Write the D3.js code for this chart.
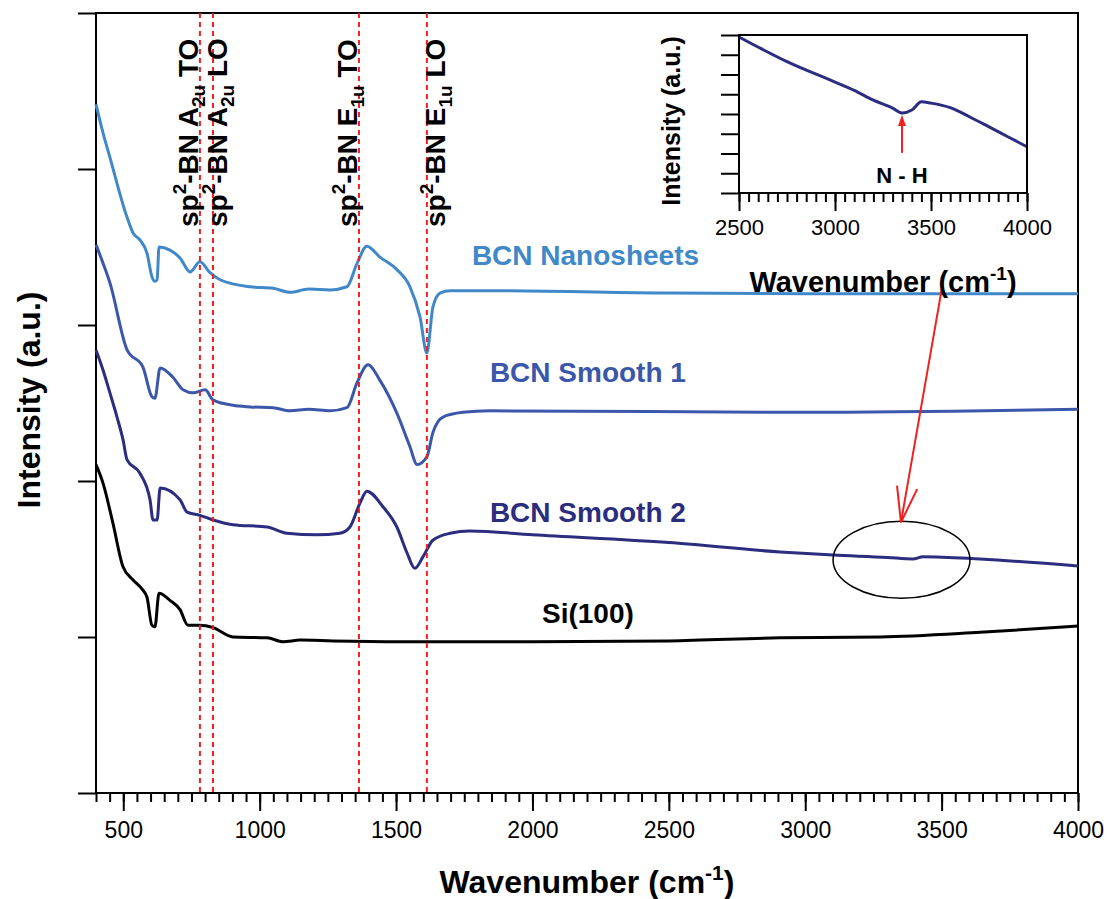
<!DOCTYPE html>
<html>
<head>
<meta charset="utf-8">
<script src="https://cdn.jsdelivr.net/npm/d3@7"></script>
<style>
  body { margin: 0; background: #fff; }
  text { font-family: "Liberation Sans", Arial, sans-serif; }
</style>
</head>
<body>
<div id="chart"></div>
<script>
// Values: wavenumber (cm-1) and intensity (a.u., 0-100 frame)
const nanoWave = [400, 426, 451, 514, 536, 561, 587, 605, 616, 624, 631, 671, 708, 745, 781, 818, 855, 965, 1050, 1111, 1180, 1258, 1320, 1357, 1393, 1441, 1503, 1551, 1588, 1613, 1635, 1661, 1698, 1844, 2500, 3000, 4000];
const nanoInt  = [88.3, 84.6, 81.5, 73.8, 71.8, 70.9, 69.2, 66.2, 65.6, 65.8, 70.0, 69.6, 68.6, 66.8, 68.1, 66.7, 65.8, 64.9, 64.7, 64.2, 64.6, 64.5, 64.9, 67.9, 70.1, 68.7, 67.1, 64.9, 61.0, 56.4, 62.3, 64.1, 64.4, 64.4, 64.1, 64.0, 64.0];

const smooth1Wave = [400, 426, 451, 514, 572, 605, 616, 635, 682, 719, 756, 800, 829, 902, 965, 1050, 1111, 1180, 1258, 1320, 1357, 1397, 1441, 1503, 1551, 1577, 1613, 1635, 1672, 1745, 1844, 3000, 4000];
const smooth1Int  = [70.3, 67.9, 65.4, 56.8, 54.6, 50.8, 50.6, 54.5, 53.3, 51.7, 51.3, 51.7, 50.4, 49.7, 49.5, 49.4, 49.0, 49.2, 49.0, 49.4, 52.6, 54.9, 52.9, 48.7, 44.4, 42.1, 43.1, 46.2, 48.2, 48.8, 49.0, 48.8, 49.2];

const smooth2Wave = [400, 426, 451, 477, 499, 514, 561, 598, 609, 624, 635, 708, 734, 781, 829, 902, 1027, 1100, 1210, 1294, 1331, 1368, 1393, 1452, 1503, 1540, 1569, 1599, 1635, 1698, 1771, 2000, 2500, 2908, 3102, 3300, 3395, 3432, 3641, 4000];
const smooth2Int  = [56.8, 54.2, 51.3, 48.2, 45.3, 42.7, 41.0, 37.6, 35.0, 35.0, 39.1, 37.6, 36.0, 35.6, 35.0, 34.4, 34.1, 33.3, 33.1, 33.3, 34.1, 37.2, 38.7, 36.7, 34.1, 30.8, 28.8, 30.3, 32.4, 33.3, 33.6, 33.1, 32.1, 30.9, 30.5, 30.2, 30.0, 30.3, 30.0, 29.1];

const siWave = [400, 426, 462, 499, 536, 572, 587, 605, 616, 631, 671, 708, 737, 781, 829, 902, 1027, 1086, 1148, 1269, 1514, 2000, 2500, 2908, 3275, 3641, 4000];
const siInt  = [42.1, 39.7, 34.6, 29.0, 27.3, 26.0, 25.1, 21.5, 21.3, 25.6, 24.7, 23.5, 21.5, 21.5, 21.2, 20.0, 19.9, 19.4, 19.6, 19.5, 19.4, 19.4, 19.5, 19.9, 20.0, 20.6, 21.4];

// Inset: BCN Smooth 2 zoomed at 2500-4000 cm-1 (0-8 frame)
const insetWave = [2500, 2609, 2750, 3000, 3100, 3200, 3300, 3350, 3400, 3450, 3500, 3600, 3700, 3800, 3900, 4000];
const insetInt  = [7.9, 7.34, 6.65, 5.62, 5.2, 4.7, 4.3, 4.05, 4.2, 4.62, 4.55, 4.32, 3.86, 3.36, 2.85, 2.34];

// Marked phonon modes (dashed lines)
const modeWave = [781, 829, 1364, 1613];
const modeName = [["A", "2u", "TO"], ["A", "2u", "LO"], ["E", "1u", "TO"], ["E", "1u", "LO"]];

const seriesNames  = ["BCN Nanosheets", "BCN Smooth 1", "BCN Smooth 2", "Si(100)"];
const seriesColors = ["#4188c9", "#3b57aa", "#2b2d7f", "#000000"];

const xTicksMajor = d3.range(500, 4001, 500);
const insetTicksMajor = [2500, 3000, 3500, 4000];

const series = [
  d3.zip(nanoWave, nanoInt),
  d3.zip(smooth1Wave, smooth1Int),
  d3.zip(smooth2Wave, smooth2Int),
  d3.zip(siWave, siInt)
];

const width = 1107, height = 899;
const svg = d3.select("#chart").append("svg")
  .attr("width", width)
  .attr("height", height);

const x = d3.scaleLinear().domain([400, 4000]).range([96, 1078]);
const y = d3.scaleLinear().domain([0, 100]).range([793, 13]);

// Axes
function styleAxis(g) {
  g.select(".domain").remove();
  g.selectAll(".tick line").attr("stroke", "#000").attr("stroke-width", 2);
  g.selectAll(".tick text").attr("fill", "#000").attr("font-size", "23px");
}

svg.append("g")
  .attr("transform", `translate(0,${y(0)})`)
  .call(d3.axisBottom(x).tickValues(d3.range(400, 4001, 50)).tickSize(9).tickFormat(""))
  .call(styleAxis);

svg.append("g")
  .attr("transform", `translate(0,${y(0)})`)
  .call(d3.axisBottom(x).tickValues(xTicksMajor).tickSize(18).tickPadding(11).tickFormat(d3.format("d")))
  .call(styleAxis);

svg.append("g")
  .attr("transform", `translate(${x(400)},0)`)
  .call(d3.axisLeft(y).tickValues(d3.range(0, 101, 20)).tickSize(18).tickFormat(""))
  .call(styleAxis);

svg.append("rect")
  .attr("x", x(400)).attr("y", y(100))
  .attr("width", x(4000) - x(400)).attr("height", y(0) - y(100))
  .attr("fill", "none").attr("stroke", "#000").attr("stroke-width", 2);

// Axis titles
svg.append("text")
  .attr("x", (x(400) + x(4000)) / 2)
  .attr("y", 893)
  .attr("text-anchor", "middle")
  .attr("font-size", "32px").attr("font-weight", "bold")
  .call(t => {
    t.append("tspan").text("Wavenumber (cm");
    t.append("tspan").attr("font-size", "21px").attr("dy", -13).text("-1");
    t.append("tspan").attr("dy", 13).text(")");
  });

svg.append("text")
  .attr("transform", "translate(40,400) rotate(-90)")
  .attr("text-anchor", "middle")
  .attr("font-size", "32px").attr("font-weight", "bold")
  .text("Intensity (a.u.)");

// Spectra
const line = d3.line()
  .x(d => x(d[0]))
  .y(d => y(d[1]))
  .curve(d3.curveMonotoneX);

svg.selectAll(".spectrum")
  .data(series)
  .enter()
  .append("path")
  .attr("class", "spectrum")
  .attr("d", line)
  .attr("fill", "none")
  .attr("stroke", (d, i) => seriesColors[i])
  .attr("stroke-width", 3)
  .attr("stroke-linejoin", "round");

// Series labels
const labelPos = [[1778, 67.7], [1844, 52.7], [1844, 34.7], [2035, 21.8]];
svg.selectAll(".series-label")
  .data(seriesNames)
  .enter()
  .append("text")
  .attr("class", "series-label")
  .attr("x", (d, i) => x(labelPos[i][0]))
  .attr("y", (d, i) => y(labelPos[i][1]))
  .attr("font-size", "28px").attr("font-weight", "bold")
  .attr("fill", (d, i) => seriesColors[i])
  .text(d => d);

// Dashed mode lines
svg.selectAll(".mode")
  .data(modeWave)
  .enter()
  .append("line")
  .attr("x1", d => x(d)).attr("x2", d => x(d))
  .attr("y1", y(100)).attr("y2", y(0))
  .attr("stroke", "#f02020")
  .attr("stroke-width", 2)
  .attr("stroke-dasharray", "5,4");

// Mode labels (rotated)
const labelShift = [-2, 14, -2, 18];
modeWave.forEach((w, i) => {
  const [sym, sub, kind] = modeName[i];
  const t = svg.append("text")
    .attr("transform", `translate(${x(w) + labelShift[i]},227) rotate(-90)`)
    .attr("font-size", "28px").attr("font-weight", "bold");
  t.append("tspan").text("sp");
  t.append("tspan").attr("font-size", "19px").attr("dy", -12).text("2");
  t.append("tspan").attr("dy", 12).text("-BN " + sym);
  t.append("tspan").attr("font-size", "19px").attr("dy", 7).text(sub);
  t.append("tspan").attr("dy", -7).text(" " + kind);
});

// Ellipse marking the N-H region and arrow to inset
const ecx = x(3353), ecy = y(29.9);
svg.append("ellipse")
  .attr("cx", ecx).attr("cy", ecy)
  .attr("rx", x(3353 + 251) - ecx)
  .attr("ry", y(29.9 - 4.94) - ecy)
  .attr("fill", "none").attr("stroke", "#000").attr("stroke-width", 1.5);

const ax0 = x(3501), ay0 = y(64.7), ax1 = x(3351), ay1 = y(34.7);
svg.append("line")
  .attr("x1", ax0).attr("y1", ay0).attr("x2", ax1).attr("y2", ay1)
  .attr("stroke", "#f02020").attr("stroke-width", 2);
const ang = Math.atan2(ay0 - ay1, ax0 - ax1);
[-0.28, 0.28].forEach(da => {
  svg.append("line")
    .attr("x1", ax1).attr("y1", ay1)
    .attr("x2", ax1 + 37 * Math.cos(ang + da))
    .attr("y2", ay1 + 37 * Math.sin(ang + da))
    .attr("stroke", "#f02020").attr("stroke-width", 2);
});

// Inset
const ix = d3.scaleLinear().domain([2500, 4000]).range([739, 1027]);
const iy = d3.scaleLinear().domain([0, 8]).range([193, 35]);
const inset = svg.append("g");

inset.append("rect")
  .attr("x", ix(2500)).attr("y", iy(8))
  .attr("width", ix(4000) - ix(2500)).attr("height", iy(0) - iy(8))
  .attr("fill", "#fff");

inset.append("g")
  .attr("transform", `translate(0,${iy(0)})`)
  .call(d3.axisBottom(ix).tickValues(d3.range(2500, 4001, 50)).tickSize(9).tickFormat(""))
  .call(styleAxis);

inset.append("g")
  .attr("transform", `translate(0,${iy(0)})`)
  .call(d3.axisBottom(ix).tickValues(insetTicksMajor).tickSize(18).tickPadding(8).tickFormat(d3.format("d")))
  .call(styleAxis)
  .call(g => g.selectAll(".tick text").attr("font-size", "22px"));

inset.append("g")
  .attr("transform", `translate(${ix(2500)},0)`)
  .call(d3.axisLeft(iy).tickValues(d3.range(0, 9, 1)).tickSize(18).tickFormat(""))
  .call(styleAxis);

inset.append("path")
  .datum(d3.zip(insetWave, insetInt))
  .attr("d", d3.line().x(d => ix(d[0])).y(d => iy(d[1])).curve(d3.curveMonotoneX))
  .attr("fill", "none")
  .attr("stroke", "#2b2d7f")
  .attr("stroke-width", 3);

inset.append("rect")
  .attr("x", ix(2500)).attr("y", iy(8))
  .attr("width", ix(4000) - ix(2500)).attr("height", iy(0) - iy(8))
  .attr("fill", "none").attr("stroke", "#000").attr("stroke-width", 2);

// N-H arrow
inset.append("line")
  .attr("x1", ix(3349)).attr("x2", ix(3349))
  .attr("y1", iy(2.03)).attr("y2", iy(3.7))
  .attr("stroke", "#f02020").attr("stroke-width", 2);
inset.append("path")
  .attr("d", `M${ix(3349)},${iy(3.95)} l-4,11 l8,0 Z`)
  .attr("fill", "#f02020");

inset.append("text")
  .attr("x", ix(3349)).attr("y", 183)
  .attr("text-anchor", "middle")
  .attr("font-size", "22px").attr("font-weight", "bold")
  .text("N - H");

inset.append("text")
  .attr("transform", "translate(680,121) rotate(-90)")
  .attr("text-anchor", "middle")
  .attr("font-size", "25px").attr("font-weight", "bold")
  .text("Intensity (a.u.)");

inset.append("text")
  .attr("x", (ix(2500) + ix(4000)) / 2)
  .attr("y", 292)
  .attr("text-anchor", "middle")
  .attr("font-size", "29px").attr("font-weight", "bold")
  .call(t => {
    t.append("tspan").text("Wavenumber (cm");
    t.append("tspan").attr("font-size", "19px").attr("dy", -12).text("-1");
    t.append("tspan").attr("dy", 12).text(")");
  });
</script>
</body>
</html>
